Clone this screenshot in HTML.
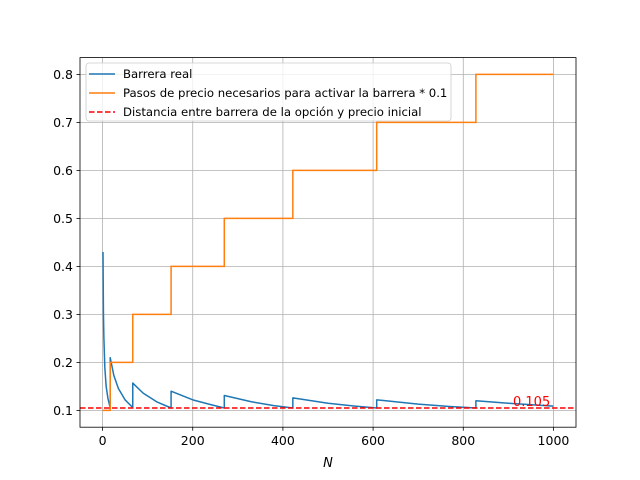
<!DOCTYPE html>
<html><head><meta charset="utf-8"><style>
body{margin:0;background:#fff}
svg{display:block;font-family:"DejaVu Sans","Liberation Sans",sans-serif}
</style></head><body>
<svg id="chart" width="640" height="480" viewBox="0 0 640 480">
<rect width="640" height="480" fill="#fff"/>
<g id="grid"></g>
<g id="series"></g>
<rect x="80" y="57.6" width="496" height="369.6" fill="none" stroke="#000" stroke-width="0.8"/>
<g id="ticks"></g>
<text x="328" y="467" font-size="13" font-style="italic" text-anchor="middle">N</text>
<g>
<rect x="86" y="63" width="365" height="58" rx="3" fill="#fff" fill-opacity="0.8" stroke="#ccc" stroke-width="0.8"/>
<line x1="89" y1="74" x2="115" y2="74" stroke="#1f77b4" stroke-width="1.5"/>
<text x="123" y="78" font-size="11.7">Barrera real</text>
<line x1="89" y1="93" x2="115" y2="93" stroke="#ff7f0e" stroke-width="1.5"/>
<text x="123" y="97" font-size="11.7">Pasos de precio necesarios para activar la barrera * 0.1</text>
<line x1="89" y1="112" x2="115" y2="112" stroke="#f00" stroke-width="1.5" stroke-dasharray="5.5,2.5"/>
<text x="123" y="116" font-size="11.7">Distancia entre barrera de la opción y precio inicial</text>
</g>
</svg>
<script>
const xTicks=[0,200,400,600,800,1000];
const yTicks=[0.1,0.2,0.3,0.4,0.5,0.6,0.7,0.8];
const stepN=[0,17,67,152,270,422,608,828,1000];
const stepVals=[0.1,0.2,0.3,0.4,0.5,0.6,0.7,0.8,0.8];
const barrierN=[1,2,3,5,8,12,17, 17,25,35,50,67, 67,90,120,152, 152,200,240,270, 270,330,380,422, 422,500,560,608, 608,700,770,828, 828,900,1000];
const barrierVals=[0.43,0.30,0.25,0.19,0.15,0.125,0.105, 0.21,0.173,0.146,0.122,0.106, 0.157,0.136,0.118,0.105, 0.14,0.122,0.112,0.105, 0.131,0.118,0.110,0.105, 0.126,0.115,0.109,0.105, 0.122,0.113,0.108,0.105, 0.12,0.115,0.109];
const distanceVal=0.105;
const distanceLabel="0.105";
const NS="http://www.w3.org/2000/svg";
const X=v=>80+(v+50)/1100*496;
const Y=v=>427.2-(v-0.065)/0.77*369.6;
function mk(t,a,p){const e=document.createElementNS(NS,t);for(const k in a)e.setAttribute(k,a[k]);p.appendChild(e);return e;}
const grid=document.getElementById('grid'),ticks=document.getElementById('ticks'),ser=document.getElementById('series');
xTicks.forEach(v=>{
 const g=mk('line',{x1:X(v),x2:X(v),y1:57.6,y2:427.2,stroke:'#b0b0b0','stroke-width':0.8},grid);
 
 const t=mk('line',{x1:X(v),x2:X(v),y1:427.2,y2:430.7,stroke:'#000','stroke-width':0.8},ticks);
 
 const l=mk('text',{x:X(v),y:445,'font-size':12.5,'text-anchor':'middle'},ticks);l.textContent=v;
 
});
yTicks.forEach(v=>{
 const g=mk('line',{x1:80,x2:576,y1:Y(v),y2:Y(v),stroke:'#b0b0b0','stroke-width':0.8},grid);
 
 const t=mk('line',{x1:76.5,x2:80,y1:Y(v),y2:Y(v),stroke:'#000','stroke-width':0.8},ticks);
 
 const l=mk('text',{x:73,y:Y(v)+4.5,'font-size':12.5,'text-anchor':'end'},ticks);l.textContent=v.toFixed(1);
 
});
let d='';
for(let i=0;i<stepN.length;i++){
 if(i===0)d+='M'+X(stepN[0])+','+Y(stepVals[0]);
 else d+=' L'+X(stepN[i])+','+Y(stepVals[i-1])+' L'+X(stepN[i])+','+Y(stepVals[i]);
}
const bp=barrierN.map((n,i)=>(i?'L':'M')+X(n)+','+Y(barrierVals[i])).join(' ');
const b=mk('path',{d:bp,fill:'none',stroke:'#1f77b4','stroke-width':1.5,'stroke-linejoin':'round'},ser);

const o=mk('path',{d:d,fill:'none',stroke:'#ff7f0e','stroke-width':1.5},ser);

const r=mk('line',{x1:80,x2:576,y1:Y(distanceVal),y2:Y(distanceVal),stroke:'#f00','stroke-width':1.5,'stroke-dasharray':'5.5,2.5'},ser);

const rt=mk('text',{x:513,y:Y(distanceVal)-2,'font-size':13,fill:'#f00'},ser);rt.textContent=distanceLabel;

</script>
</body></html>
